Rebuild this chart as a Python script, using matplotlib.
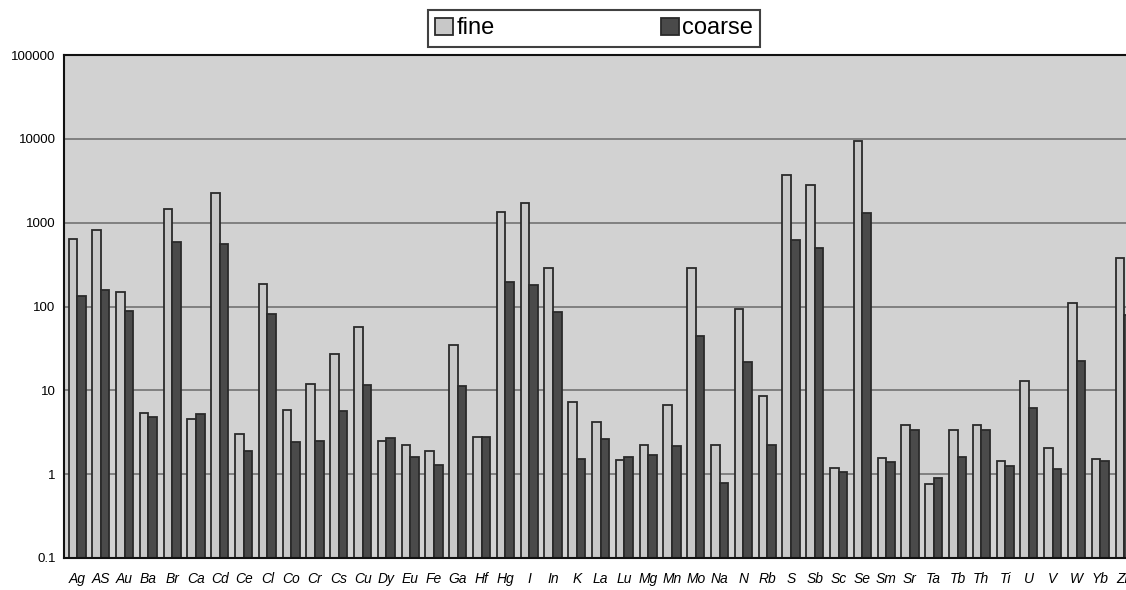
import matplotlib
matplotlib.use("Agg")
import matplotlib.pyplot as plt
import numpy as np

elements = ["Ag", "AS", "Au", "Ba", "Br", "Ca", "Cd", "Ce", "Cl", "Co", "Cr", "Cs", "Cu",
            "Dy", "Eu", "Fe", "Ga", "Hf", "Hg", "I", "In", "K", "La", "Lu", "Mg", "Mn",
            "Mo", "Na", "N", "Rb", "S", "Sb", "Sc", "Se", "Sm", "Sr", "Ta", "Tb", "Th",
            "Ti", "U", "V", "W", "Yb", "Zn"]
fine = [638, 810, 148, 5.3, 1455, 4.4, 2256, 2.92, 187, 5.7, 11.7, 27.2, 57,
        2.41, 2.10, 1.80, 35, 2.64, 1340, 1715, 285, 7.08, 4.09, 1.39, 2.10, 6.6,
        285, 2.10, 93.5, 8.35, 3660, 2837, 1.07, 9480, 1.44, 3.80, 0.66, 3.28, 3.73,
        1.35, 12.8, 1.95, 110, 1.43, 379]
coarse = [134, 158, 88, 4.8, 593, 5.2, 561, 1.90, 82, 2.41, 2.52, 5.6, 11.7,
          2.71, 1.60, 1.30, 11.2, 2.76, 194, 181, 86, 1.52, 2.64, 1.60, 1.71, 2.16,
          45, 0.79, 21.6, 2.20, 627, 494, 1.07, 1291, 1.40, 3.35, 0.90, 1.60, 3.35,
          1.26, 6.2, 1.14, 22.2, 1.43, 79]
yticks = [0.1, 1, 10, 100, 1000, 10000, 100000]
ytick_labels = ["0.1", "1", "10", "100", "1000", "10000", "100000"]

plt.rcParams['font.family'] = ['Liberation Sans', 'DejaVu Sans']

fig = plt.figure(figsize=(11.26, 5.9), dpi=100)
ax = fig.add_axes([64/1126, 32/590, (1126-64)/1126, (558-55)/590])
ax.set_facecolor("#d2d2d2")

x = np.arange(len(elements))
w = 0.36
ax.set_yscale("log")
ax.set_ylim(0.1, 100000)
ax.set_xlim(-0.55, 44.08)

for yv in yticks[1:-1]:
    ax.axhline(yv, color="#7a7a7a", lw=1.3, zorder=1)

ax.bar(x - w/2, fine, width=w, bottom=0.1, color="#c8c8c8", edgecolor="#2a2a2a",
       linewidth=1.3, zorder=2, label="fine")
ax.bar(x + w/2, [c - 0.1 for c in coarse], width=w, bottom=0.1, color="#4a4a4a",
       edgecolor="#2a2a2a", linewidth=1.3, zorder=2, label="coarse")

ax.set_yticks(yticks)
ax.set_yticklabels(ytick_labels, fontsize=9.5)
ax.yaxis.set_minor_locator(matplotlib.ticker.NullLocator())
ax.tick_params(axis="y", length=0, pad=6)
ax.set_xticks(x)
ax.set_xticklabels(elements, fontsize=10, style="italic")
ax.tick_params(axis="x", length=0, pad=10)

for s in ["left", "bottom", "top"]:
    ax.spines[s].set_linewidth(1.5)
    ax.spines[s].set_color("#111111")
ax.spines["right"].set_visible(False)

leg = fig.legend(loc="center", bbox_to_anchor=(428/1126, 1 - 47/590, 332/1126, 37/590),
                 mode="expand", ncol=2, fontsize=17, frameon=True, fancybox=False,
                 edgecolor="#111111", handlelength=0.75, handleheight=0.75,
                 handletextpad=0.15, borderpad=0.3, borderaxespad=0)
leg.get_frame().set_linewidth(1.5)

fig.savefig("out.png", dpi=100)
